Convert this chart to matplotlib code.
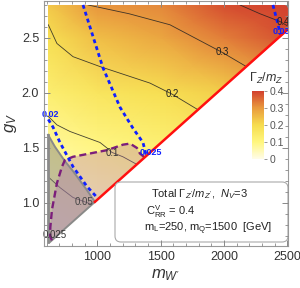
import numpy as np
import matplotlib
matplotlib.use('Agg')
import matplotlib.pyplot as plt
from matplotlib.colors import LinearSegmentedColormap
from matplotlib.patches import FancyBboxPatch
from matplotlib.ticker import MultipleLocator, FormatStrFormatter

plt.rcParams['font.family'] = ['Liberation Sans', 'DejaVu Sans']
plt.rcParams['mathtext.fontset'] = 'custom'
plt.rcParams['mathtext.rm'] = 'Liberation Sans'
plt.rcParams['mathtext.it'] = 'Liberation Sans:italic'

# width/mass table (rows: g_V, cols: m_W')
grid_m = [610, 1000, 1500, 2000, 2500]
grid_g = [0.645, 1.0, 1.5, 2.0, 2.5, 2.8]
width = [[0.020, 0.030, 0.045, 0.060, 0.075],
         [0.035, 0.050, 0.070, 0.090, 0.110],
         [0.075, 0.095, 0.120, 0.150, 0.180],
         [0.130, 0.165, 0.190, 0.220, 0.260],
         [0.190, 0.245, 0.280, 0.330, 0.380],
         [0.230, 0.305, 0.320, 0.385, 0.440]]

# black contours of Gamma/m
c005_m = [609, 704, 807, 901, 955]
c005_g = [1.24, 1.14, 1.05, 1.01, 0.99]
c01_m = [610, 680, 783, 1020, 1075, 1114, 1201, 1320]
c01_g = [1.79, 1.71, 1.65, 1.55, 1.50, 1.46, 1.42, 1.345]
c02_m = [612, 680, 807, 1020, 1414, 1588, 1790]
c02_g = [2.62, 2.45, 2.33, 2.24, 2.09, 1.99, 1.85]
c03_m = [925, 1250, 1572, 1983, 2175]
c03_g = [2.80, 2.72, 2.62, 2.37, 2.24]
c04_m = [2125, 2283, 2440, 2500]
c04_g = [2.80, 2.72, 2.65, 2.61]

# blue dotted contours
b002_m = [612, 649, 704, 807, 917, 1005]
b002_g = [1.76, 1.69, 1.55, 1.33, 1.15, 1.04]
b0025_m = [886, 941, 1043, 1178, 1280, 1359, 1375, 1385]
b0025_g = [2.80, 2.60, 2.23, 1.87, 1.68, 1.55, 1.48, 1.43]
b003_m = [2385, 2417, 2445]
b003_g = [2.80, 2.66, 2.53]

# excluded regions
red_m = [625, 2500]
red_g = [0.645, 2.575]
grey_m = [610, 665, 743, 807, 915, 980]
grey_g = [1.62, 1.51, 1.38, 1.29, 1.12, 1.01]
purple_m = [640, 626, 628, 641, 680, 720, 743, 807, 1075, 1201, 1257, 1312, 1335, 1372]
purple_g = [0.66, 0.70, 0.78, 0.94, 1.18, 1.33, 1.39, 1.42, 1.48, 1.53, 1.54, 1.50, 1.45, 1.415]

cmap = LinearSegmentedColormap.from_list('gz', [(0.0, '#fffce8'), (0.25, '#fff67e'), (0.5, '#f6dc4e'),
                                                (0.75, '#e99a3e'), (1.0, '#d2402e')])

fig = plt.figure(figsize=(3.0, 2.88), dpi=100)
ax = fig.add_axes([44/300, 42/288, 244/300, 245/288])

def red_at(m):
    return np.interp(m, red_m, red_g)

M, G = np.meshgrid(grid_m, grid_g)
ax.pcolormesh(M, G, np.array(width), shading='gouraud', cmap=cmap, vmin=0, vmax=0.4, zorder=0)

for cm, cg in [(c005_m, c005_g), (c01_m, c01_g), (c02_m, c02_g), (c03_m, c03_g), (c04_m, c04_g)]:
    ax.plot(cm, cg, color='#222222', lw=0.6, alpha=0.85, zorder=2)

# white where not allowed
ax.fill_between([red_m[0], red_m[1], 2520], [red_g[0], red_g[1], red_g[1]], 0.5, color='white', zorder=3, lw=0)
ax.fill_between([560, 610], 0.5, 3.0, color='white', zorder=3, lw=0)
ax.fill_between([560, 2520], 2.8, 3.0, color='white', zorder=3, lw=0)

# grey region
gx = [610] + grey_m + [red_m[0]]
gy = [0.645] + grey_g + [red_g[0]]
ax.fill(gx, gy, color='#7a7a7a', alpha=0.45, lw=0, zorder=4)
ax.plot(grey_m + [red_m[0]], grey_g + [red_g[0]], color='#8a8a8a', lw=1.4, zorder=5)
ax.plot([610, 610], [0.645, 1.62], color='#8a8a8a', lw=2.0, zorder=5)

# purple region
ax.fill(purple_m + [red_m[0]], purple_g + [red_g[0]], color='#b070b0', alpha=0.33, lw=0, zorder=4)
ax.plot(purple_m, purple_g, color='#7b1e7b', lw=1.7, dashes=(3, 1.6), zorder=6)

for bm, bg in [(b002_m, b002_g), (b0025_m, b0025_g), (b003_m, b003_g)]:
    ax.plot(bm, bg, color='#1020ff', lw=2.0, dashes=(1.4, 1.2), zorder=6)

ax.plot([980, red_m[1]], [red_at(980), red_g[1]], color='#ff1010', lw=1.8, zorder=7)

# labels on contours
lab_kw = dict(fontsize=7, ha='center', va='center', zorder=8)
ax.text(895, 1.01, '0.05', color='#444444', **lab_kw)
ax.text(1114, 1.455, '0.1', color='#333333', **lab_kw)
ax.text(1588, 1.99, '0.2', color='#222222', **lab_kw)
ax.text(1983, 2.37, '0.3', color='#222222', **lab_kw)
ax.text(2470, 2.645, '0.4', color='#222222', **lab_kw)
ax.text(665, 0.71, '0.025', color='#333333', **lab_kw)
blue_kw = dict(fontsize=6.5, ha='center', va='center', color='#1020ff', fontweight='bold', zorder=8)
ax.text(625, 1.80, '0.02', **blue_kw)
ax.text(1420, 1.46, '0.025', **blue_kw)
ax.text(2455, 2.555, '0.03', **blue_kw)

ax.set_xlim(578, 2504)
ax.set_ylim(0.609, 2.836)
ax.xaxis.set_major_locator(MultipleLocator(500))
ax.xaxis.set_minor_locator(MultipleLocator(100))
ax.yaxis.set_major_locator(MultipleLocator(0.5))
ax.yaxis.set_minor_locator(MultipleLocator(0.1))
ax.yaxis.set_major_formatter(FormatStrFormatter('%.1f'))
ax.tick_params(which='both', direction='in', top=True, right=True, colors='#888888',
               labelcolor='#333333', labelsize=9)
ax.tick_params(which='major', length=4, width=0.7)
ax.tick_params(which='minor', length=2, width=0.6)
ax.xaxis.set_zorder(20)
ax.yaxis.set_zorder(20)
for s in ax.spines.values():
    s.set_color('#999999')
    s.set_linewidth(0.8)
    s.set_zorder(20)

ax.set_xlabel(r"$m_{W'}$", fontsize=12, color='#333333', labelpad=3)
ax.set_ylabel(r"$g_V$", fontsize=12, color='#333333', labelpad=2)

# legend box
box = FancyBboxPatch((1.15, 0.46), 1.73, 0.60, boxstyle='round,pad=0,rounding_size=0.06',
                     transform=fig.dpi_scale_trans, facecolor='white', edgecolor='#aaaaaa',
                     lw=0.8, zorder=9, clip_on=False)
ax.add_patch(box)
txt_kw = dict(transform=fig.dpi_scale_trans, fontsize=8, color='#222222', zorder=10, va='center', ha='left')
ax.text(1.51, 0.94, r"Total $\Gamma_{Z'}/m_{Z'}$,  $N_V$=3", **txt_kw)
ax.text(1.46, 0.76, r"C$^{\rm V}_{\rm RR}$ = 0.4", **txt_kw)
ax.text(1.44, 0.59, r"m$_{\rm L}$=250, m$_{\rm Q}$=1500  [GeV]", **txt_kw)

# colorbar
cax = fig.add_axes([252/300, 129/288, 12/300, 68/288])
sm = plt.cm.ScalarMappable(cmap=cmap, norm=plt.Normalize(0, 0.4))
cbar = fig.colorbar(sm, cax=cax, ticks=[0, 0.1, 0.2, 0.3, 0.4])
cbar.ax.set_yticklabels(['0', '0.1', '0.2', '0.3', '0.4'])
cbar.outline.set_visible(False)
cbar.ax.tick_params(labelsize=7.5, colors='#888888', labelcolor='#555555', length=2, width=0.6, pad=2)
fig.text(266/300, 1 - 78/288, r"$\Gamma_Z/m_Z$", fontsize=9, color='#333333', ha='center', va='center')

fig.savefig('out.png', dpi=100)
